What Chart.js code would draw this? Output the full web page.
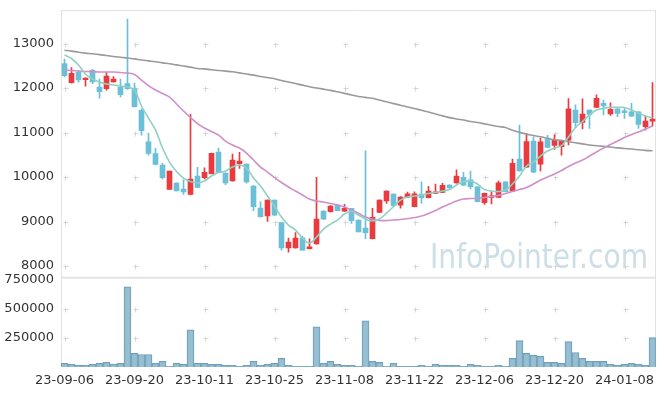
<!DOCTYPE html>
<html>
<head>
<meta charset="utf-8">
<script src="https://cdn.jsdelivr.net/npm/chart.js@4.4.1/dist/chart.umd.min.js"></script>
<style>
html,body{margin:0;padding:0;background:#fff;}
#wrap{width:665px;height:396px;position:relative;}
</style>
</head>
<body>
<div id="wrap"><canvas id="c" width="665" height="396"></canvas></div>
<script>
const dates = ['23-09-06','23-09-07','23-09-08','23-09-11','23-09-12','23-09-13','23-09-14','23-09-15','23-09-18','23-09-19',
'23-09-20','23-09-21','23-09-22','23-09-25','23-09-26','23-09-27','23-10-04','23-10-05','23-10-06','23-10-10',
'23-10-11','23-10-12','23-10-13','23-10-16','23-10-17','23-10-18','23-10-19','23-10-20','23-10-23','23-10-24',
'23-10-25','23-10-26','23-10-27','23-10-30','23-10-31','23-11-01','23-11-02','23-11-03','23-11-06','23-11-07',
'23-11-08','23-11-09','23-11-10','23-11-13','23-11-14','23-11-15','23-11-16','23-11-17','23-11-20','23-11-21',
'23-11-22','23-11-23','23-11-24','23-11-27','23-11-28','23-11-29','23-11-30','23-12-01','23-12-04','23-12-05',
'23-12-06','23-12-07','23-12-08','23-12-11','23-12-12','23-12-13','23-12-14','23-12-15','23-12-18','23-12-19',
'23-12-20','23-12-21','23-12-22','23-12-26','23-12-27','23-12-28','24-01-02','24-01-03','24-01-04','24-01-05',
'24-01-08','24-01-09','24-01-10','24-01-11','24-01-12'];

const opens  = [12550,12120,12350,12190,12400,12020,11985,12140,12020,12100,
11980,11500,10790,10530,10270,9725,9865,9730,9610,10020,
9985,10075,10560,10090,9915,10300,10290,9800,9305,9125,
9485,8975,8410,8410,8635,8390,8500,9235,9220,9370,
9235,9295,9035,8855,8615,9205,9465,9620,9370,9550,
9335,9620,9535,9635,9655,9820,9870,9995,9935,9780,
9425,9545,9545,9895,9685,10405,10220,10810,10290,10855,
10710,10680,10830,11505,11230,11505,11565,11655,11420,11530,
11490,11465,11465,11130,11255];
const highs  = [12650,12460,12390,12230,12420,12200,12345,12260,12200,13550,
12110,11530,10980,10645,10310,10135,9870,9935,11410,10220,
10210,10540,10650,10095,10515,10555,10300,9810,9445,9490,
9490,8980,8630,8750,8675,8615,9995,9240,9360,9375,
9390,9300,9040,10590,9300,9490,9690,9625,9560,9665,
9670,9895,9790,9845,9860,9830,10160,10105,10135,9785,
9640,9670,9910,9900,10405,11170,10985,10905,10875,10940,
10950,10830,11765,11620,11755,11510,11845,11730,11670,11535,
11545,11655,11470,11370,12120];
const lows   = [12250,12110,12130,12040,12100,11770,11950,12130,11800,11970,
11570,10940,10490,10270,9960,9720,9690,9610,9600,9760,
9960,10070,10100,9830,9910,10195,9865,9245,9100,9005,
9140,8360,8310,8400,8350,8385,8490,9050,9210,9240,
9230,8960,8765,8615,8610,9200,9410,9350,9300,9545,
9330,9410,9530,9630,9650,9750,9865,9815,9735,9440,
9385,9395,9540,9665,9680,10130,10210,10100,10140,10660,
10620,10490,10720,11110,11080,11095,11560,11395,11385,11355,
11320,11360,11095,11055,11145];
const closes = [12280,12330,12180,12225,12140,11920,12270,12200,11850,11985,
11580,11040,10530,10285,9985,10135,9690,9665,9955,9770,
10105,10535,10105,9870,10380,10360,9890,9335,9110,9485,
9145,8410,8540,8630,8355,8435,9055,9055,9350,9245,
9295,9020,8770,8750,9095,9485,9685,9355,9550,9625,
9625,9535,9685,9665,9815,9755,10020,9820,9785,9445,
9635,9565,9870,9670,10310,10140,10795,10110,10790,10665,
10830,10825,11530,11220,11415,11410,11770,11600,11520,11430,
11445,11370,11185,11260,11305];
const volumes = [31000,23000,14000,14000,23000,31000,40000,26000,31000,691000,
117000,108000,108000,31000,48000,6000,31000,23000,321000,31000,
31000,23000,23000,14000,14000,6000,14000,48000,14000,23000,
31000,74000,14000,6000,6000,6000,347000,31000,48000,23000,
14000,14000,6000,398000,48000,40000,6000,31000,5000,5000,
5000,14000,6000,23000,14000,14000,14000,6000,23000,14000,
6000,6000,14000,6000,74000,227000,117000,100000,91000,40000,
40000,31000,219000,125000,74000,48000,48000,48000,23000,14000,
23000,31000,23000,14000,253000];
const maShort = [12742,12663,12517,12315,12202,12135,12090,12067,12045,12023,
11955,11596,11326,11056,10652,10337,10124,9978,9899,9865,
9910,10023,10101,10135,10225,10270,10202,9978,9798,9573,
9349,9101,8922,8809,8629,8517,8652,8831,8944,9034,
9169,9225,9147,9057,9012,9057,9191,9337,9483,9551,
9573,9596,9629,9657,9686,9719,9821,9899,9910,9843,
9719,9686,9674,9708,9843,10023,10247,10337,10472,10584,
10652,10708,10899,11113,11247,11393,11506,11544,11566,11566,
11562,11506,11438,11371,11326];
const maMid = [12405,12393,12382,12371,12366,12360,12360,12360,12348,12337,
12303,12180,12056,11955,11876,11798,11640,11483,11337,11202,
11101,11023,10944,10809,10719,10652,10540,10382,10225,10113,
9989,9877,9776,9686,9596,9506,9461,9438,9405,9371,
9326,9259,9185,9101,9050,9023,9023,9034,9045,9068,
9090,9124,9180,9247,9326,9393,9461,9506,9517,9522,
9540,9562,9589,9629,9674,9719,9764,9843,9933,10000,
10068,10146,10236,10315,10382,10472,10562,10652,10730,10809,
10888,10955,11011,11079,11146];
const maLong = [12850,12830,12805,12785,12770,12750,12730,12710,12690,12675,
12655,12630,12610,12590,12565,12545,12520,12495,12470,12440,
12430,12410,12395,12380,12365,12340,12315,12290,12260,12235,
12210,12170,12135,12100,12065,12030,12000,11975,11948,11915,
11880,11845,11810,11790,11769,11730,11690,11650,11615,11575,
11540,11500,11460,11415,11375,11335,11305,11280,11250,11225,
11195,11165,11135,11115,11050,11005,10965,10935,10905,10870,
10840,10820,10795,10770,10745,10720,10705,10690,10675,10655,
10640,10630,10615,10600,10590];
const priceTicks = [8000,9000,10000,11000,12000,13000];
const volumeTicks = [250000,500000,750000];
const labelEvery = 10;

const UP = '#ea3a3e', DOWN = '#6bc0d8';
const candleColors = closes.map((c,i)=> c >= opens[i] ? UP : DOWN);

const decor = {
  id: 'decor',
  beforeDatasetsDraw(chart){
    const {ctx, chartArea:a, scales} = chart;
    const x = scales.x, y = scales.y, yv = scales.yv;
    ctx.save();
    ctx.font = '34px "DejaVu Sans"';
    ctx.fillStyle = 'rgba(170,200,214,0.6)';
    ctx.textBaseline = 'alphabetic';
    const txt = 'InfoPointer.com';
    const w = ctx.measureText(txt).width;
    ctx.translate(430, 268);
    ctx.scale(218 / w, 1);
    ctx.fillText(txt, 0, 0);
    ctx.restore();

    ctx.save();
    ctx.strokeStyle = '#e2e2e2';
    ctx.lineWidth = 1;
    ctx.beginPath();
    ctx.moveTo(a.left + 0.5, a.top); ctx.lineTo(a.left + 0.5, a.bottom);
    ctx.moveTo(a.right - 0.5, a.top); ctx.lineTo(a.right - 0.5, a.bottom);
    ctx.moveTo(a.left, a.top + 0.5); ctx.lineTo(a.right, a.top + 0.5);
    ctx.stroke();
    ctx.lineWidth = 2;
    ctx.strokeStyle = '#e4e4e4';
    ctx.beginPath();
    ctx.moveTo(a.left, yv.top); ctx.lineTo(a.right, yv.top);
    ctx.stroke();
    ctx.lineWidth = 1;
    ctx.strokeStyle = '#d6d6d6';
    const plus = (px, py) => {
      px = Math.round(px) + 0.5; py = Math.round(py) + 0.5;
      ctx.moveTo(px - 2, py); ctx.lineTo(px + 3, py);
      ctx.moveTo(px, py - 2); ctx.lineTo(px, py + 3);
    };
    ctx.beginPath();
    for (let i = 0; i < dates.length; i += labelEvery) {
      const px = x.getPixelForValue(i);
      priceTicks.forEach(v => plus(px, y.getPixelForValue(v)));
      volumeTicks.slice(0, 2).forEach(v => plus(px, yv.getPixelForValue(v)));
    }
    ctx.stroke();
    ctx.restore();
  }
};

Chart.defaults.font.family = '"DejaVu Sans"';
Chart.defaults.font.size = 13;
Chart.defaults.color = '#333';

const fitY = (s) => { s.width = 61; s.paddingTop = 0; s.paddingBottom = 0; };

new Chart(document.getElementById('c'), {
  data: {
    labels: dates,
    datasets: [
      { type:'line', data: maShort, yAxisID:'y', borderColor:'#8fd0c2', borderWidth:1.6, pointRadius:0, tension:0.4, order:0 },
      { type:'line', data: maMid, yAxisID:'y', borderColor:'#cf8fca', borderWidth:1.6, pointRadius:0, tension:0.4, order:0 },
      { type:'line', data: maLong, yAxisID:'y', borderColor:'#9a9a9a', borderWidth:1.6, pointRadius:0, tension:0.4, order:0 },
      { type:'bar', data: opens.map((o,i)=>[o, closes[i]]), yAxisID:'y', backgroundColor:candleColors, barThickness:5, grouped:false, minBarLength:1.5, order:1 },
      { type:'bar', data: lows.map((l,i)=>[l, highs[i]]), yAxisID:'y', backgroundColor:candleColors, barThickness:1, grouped:false, order:2 },
      { type:'bar', data: volumes, yAxisID:'yv', backgroundColor:'rgba(140,184,204,0.9)', borderColor:'#6f9fb9', borderWidth:1, barPercentage:1, categoryPercentage:1, grouped:false, order:3 }
    ]
  },
  options: {
    responsive:false,
    animation:false,
    events:[],
    layout:{ padding:{ left:0, right:9, top:10, bottom:0 } },
    plugins:{ legend:{display:false}, tooltip:{enabled:false} },
    scales:{
      x:{
        type:'category', offset:true,
        grid:{display:false, drawTicks:false}, border:{display:false},
        ticks:{ autoSkip:false, maxRotation:0, minRotation:0, padding:6,
          callback:(v,i)=> i % labelEvery === 0 ? dates[i] : '' },
        afterFit:(s)=>{ s.height = 29; s.paddingLeft = 0; s.paddingRight = 0; }
      },
      yv:{
        type:'linear', position:'left', stack:'panes', stackWeight:1,
        min:0, max:769000,
        grid:{display:false, drawTicks:false}, border:{display:false},
        ticks:{ padding:7, callback:(v)=> String(v) },
        afterBuildTicks:(s)=>{ s.ticks = volumeTicks.map(v=>({value:v})); },
        afterFit: fitY
      },
      y:{
        type:'linear', position:'left', stack:'panes', stackWeight:3,
        min:7738, max:13753,
        grid:{display:false, drawTicks:false}, border:{display:false},
        ticks:{ padding:7, callback:(v)=> String(v) },
        afterBuildTicks:(s)=>{ s.ticks = priceTicks.map(v=>({value:v})); },
        afterFit: fitY
      }
    }
  },
  plugins:[decor]
});
</script>
</body>
</html>
